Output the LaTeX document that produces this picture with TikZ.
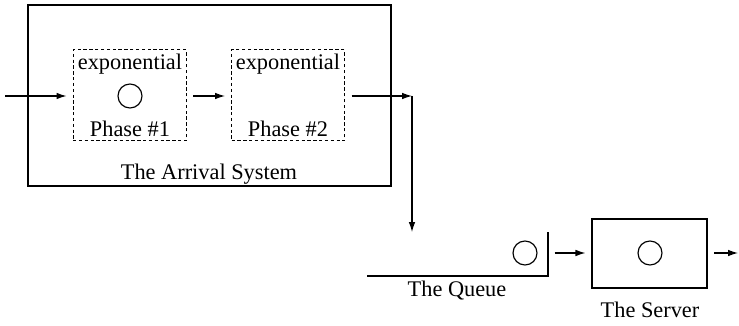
\documentclass[tikz,border=0pt]{standalone}
\usepackage{fontspec}
\setmainfont{Liberation Serif}
\usetikzlibrary{arrows.meta, positioning}

\begin{document}
\begin{tikzpicture}[
  x=0.6pt, y=-0.6pt,
  line width=0.7pt,
  font=\fontsize{13.4}{15}\selectfont,
  box/.style={rectangle, draw, inner sep=0pt},
  phase/.style={rectangle, draw, line width=0.6pt, dash pattern=on 2pt off 1.5pt, minimum width=67.8pt, minimum height=54.6pt, inner sep=0pt},
  unit/.style={circle, draw, minimum size=14.4pt, inner sep=0pt},
  label/.style={anchor=base, inner sep=0pt},
  arrow/.style={-{Latex[length=6pt, width=4pt]}},
  gap/.style={shorten <=4pt, shorten >=3.6pt},
]
\useasboundingbox (0,0) rectangle (739,326);

% Arrival System
\node[box, minimum width=217.8pt, minimum height=108.6pt] (arrival) at (209.5,95.5) {};
\node[label] (arrlabel) at (209,180) {The Arrival System};

% Phasen
\node[phase] (phase1) at (129.5,95.5) {};
\node[label] (exp1) at (130,70) {exponential};
\node[unit] (c1) at (130,96) {};
\node[label] (ph1) at (130,137) {Phase \#1};

\node[phase] (phase2) at (288,95.5) {};
\node[label] (exp2) at (288,70) {exponential};
\node[label] (ph2) at (288,137) {Phase \#2};

% Queue
\coordinate (qleft) at (367,276);
\coordinate (qcorner) at (548,276);
\coordinate (qtop) at (548,232);
\draw (qleft) -- (qcorner) -- (qtop);
\node[unit] (qc) at (525,253) {};
\node[label] (qlabel) at (457,296) {The Queue};

% Server
\node[box, minimum width=69pt, minimum height=41.4pt] (server) at (649.5,253.5) {};
\node[unit] (sc) at (650,253) {};
\node[label] (slabel) at (650,317) {The Server};

% Pfeile
\coordinate (in) at (5,96);
\coordinate (turn) at (412,96);
\coordinate (qin) at (412,232);
\coordinate (qwall) at (548,253);
\coordinate (out) at (738,253);
\draw[arrow, shorten >=3.6pt] (in) -- (phase1.west |- in);
\draw[arrow, gap] (phase1.east |- c1) -- (phase2.west |- c1);
\draw[arrow, shorten <=4pt] (phase2.east |- turn) -- (turn);
\draw[arrow] (turn) -- (qin);
\draw[arrow, gap] (qwall) -- (server.west |- qwall);
\draw[arrow, shorten <=4pt] (server.east |- out) -- (out);

\end{tikzpicture}
\end{document}
